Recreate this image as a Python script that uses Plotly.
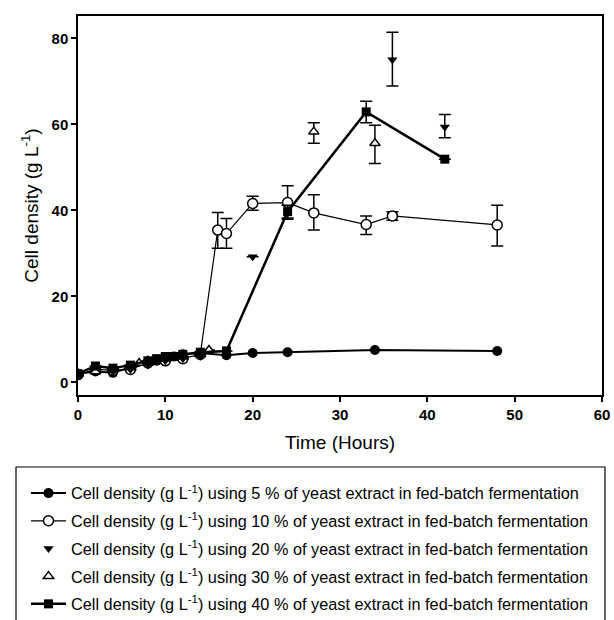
import plotly.graph_objects as go

# ---- data ----
t5 = [0, 2, 4, 6, 8, 9, 10, 11, 12, 14, 17, 20, 24, 34, 48]
y5 = [2.0, 2.5, 2.2, 3.5, 4.5, 5.0, 5.5, 6.0, 6.5, 6.8, 6.3, 6.8, 7.0, 7.5, 7.3]

t10 = [0, 2, 4, 6, 8, 10, 12, 14, 16, 17, 20, 24, 27, 33, 36, 48]
y10 = [1.8, 3.0, 2.8, 3.0, 4.5, 5.0, 5.5, 6.5, 35.4, 34.6, 41.6, 41.8, 39.4, 36.7, 38.7, 36.6]
e10p = [0, 0, 0, 0, 0, 0, 0, 0, 4.1, 3.5, 1.7, 3.9, 4.2, 2.0, 1.0, 4.6]
e10m = [0, 0, 0, 0, 0, 0, 0, 0, 4.2, 3.4, 1.6, 3.9, 4.0, 2.3, 1.0, 4.9]

t20 = [0, 2, 4, 6, 8, 10, 12, 14, 20, 36, 42]
y20 = [1.5, 2.5, 2.5, 3.0, 4.0, 5.0, 5.5, 6.0, 29.2, 75.0, 59.4]
e20p = [0, 0, 0, 0, 0, 0, 0, 0, 0, 6.4, 2.9]
e20m = [0, 0, 0, 0, 0, 0, 0, 0, 0, 6.1, 2.5]

t30 = [0, 2, 4, 6, 7, 8, 10, 12, 14, 15, 27, 34]
y30 = [2.0, 2.5, 3.0, 3.5, 4.5, 5.0, 5.5, 6.0, 6.5, 7.5, 58.3, 55.6]
e30p = [0, 0, 0, 0, 0, 0, 0, 0, 0, 0, 2.1, 4.2]
e30m = [0, 0, 0, 0, 0, 0, 0, 0, 0, 0, 2.7, 4.7]

t40 = [0, 2, 4, 6, 8, 9, 10, 11, 12, 14, 17, 24, 33, 42]
y40 = [2.0, 3.8, 3.3, 4.0, 5.0, 5.5, 6.0, 6.0, 6.5, 7.0, 7.3, 39.7, 62.9, 51.9]
e40p = [0, 0, 0, 0, 0, 0, 0, 0, 0, 0, 0, 1.5, 2.5, 0]
e40m = [0, 0, 0, 0, 0, 0, 0, 0, 0, 0, 0, 1.5, 2.5, 0]

pcts = ["5", "10", "20", "30", "40"]
x_ticks = [0, 10, 20, 30, 40, 50, 60]
y_ticks = [0, 20, 40, 60, 80]

FONT = "Liberation Sans"


def name(p):
    return ("Cell density (g L<sup>-1</sup>) using " + p +
            " % of yeast extract in fed-batch fermentation")


def err(p, m):
    return dict(type="data", symmetric=False, array=p, arrayminus=m,
                color="black", thickness=1.5, width=6)


fig = go.Figure()
fig.add_trace(go.Scatter(
    x=t5, y=y5, mode="lines+markers", name=name(pcts[0]), legendgroup="a",
    line=dict(color="black", width=2),
    marker=dict(symbol="circle", size=10, color="black")))
fig.add_trace(go.Scatter(
    x=t10, y=y10, mode="lines+markers", name=name(pcts[1]), legendgroup="b",
    line=dict(color="black", width=1.2),
    marker=dict(symbol="circle", size=10, color="white",
                line=dict(color="black", width=1.5)),
    error_y=err(e10p, e10m)))
fig.add_trace(go.Scatter(
    x=t20, y=y20, mode="markers", name=name(pcts[2]), legendgroup="c",
    marker=dict(symbol="triangle-down", size=9, color="black"),
    error_y=err(e20p, e20m)))
fig.add_trace(go.Scatter(
    x=t30, y=y30, mode="markers", name=name(pcts[3]), legendgroup="d",
    marker=dict(symbol="triangle-up", size=9, color="white",
                line=dict(color="black", width=1.5)),
    error_y=err(e30p, e30m)))
fig.add_trace(go.Scatter(
    x=t40, y=y40, mode="lines+markers", name=name(pcts[4]), legendgroup="e",
    line=dict(color="black", width=2.5),
    marker=dict(symbol="square", size=9, color="black"),
    error_y=err(e40p, e40m)))

axis_common = dict(showgrid=False, zeroline=False, showline=True, linecolor="black",
                   linewidth=1.5, mirror=True, ticks="outside", ticklen=5,
                   tickwidth=1.5, tickcolor="black")

fig.update_xaxes(range=[0, 60], tickvals=x_ticks,
                 tickfont=dict(family=FONT, size=15, color="black", weight="bold"),
                 title=dict(text="Time (Hours)", standoff=14,
                            font=dict(family=FONT, size=19, color="black")),
                 **axis_common)
fig.update_yaxes(range=[-2.95, 85.2], tickvals=y_ticks,
                 tickfont=dict(family=FONT, size=15, color="black", weight="bold"),
                 title=dict(text="Cell density (g L<sup>-1</sup>)", standoff=8,
                            font=dict(family=FONT, size=19, color="black")),
                 **axis_common)

fig.add_shape(type="rect", xref="paper", yref="paper",
              x0=(16 - 78) / 524, x1=(605 - 78) / 524,
              y0=(395 - 640) / 379, y1=(395 - 467) / 379,
              line=dict(color="black", width=1.2), fillcolor="rgba(0,0,0,0)")

fig.update_layout(
    width=614, height=620,
    margin=dict(l=78, r=12, t=16, b=225, autoexpand=False),
    paper_bgcolor="white", plot_bgcolor="white",
    showlegend=True,
    legend=dict(x=(26 - 78) / 524, y=(395 - 476) / 379, xanchor="left", yanchor="top",
                traceorder="grouped", tracegroupgap=3.5, itemwidth=35,
                font=dict(family=FONT, size=16.3, color="black"),
                bgcolor="rgba(0,0,0,0)", borderwidth=0),
)

fig.write_html("out.html")
